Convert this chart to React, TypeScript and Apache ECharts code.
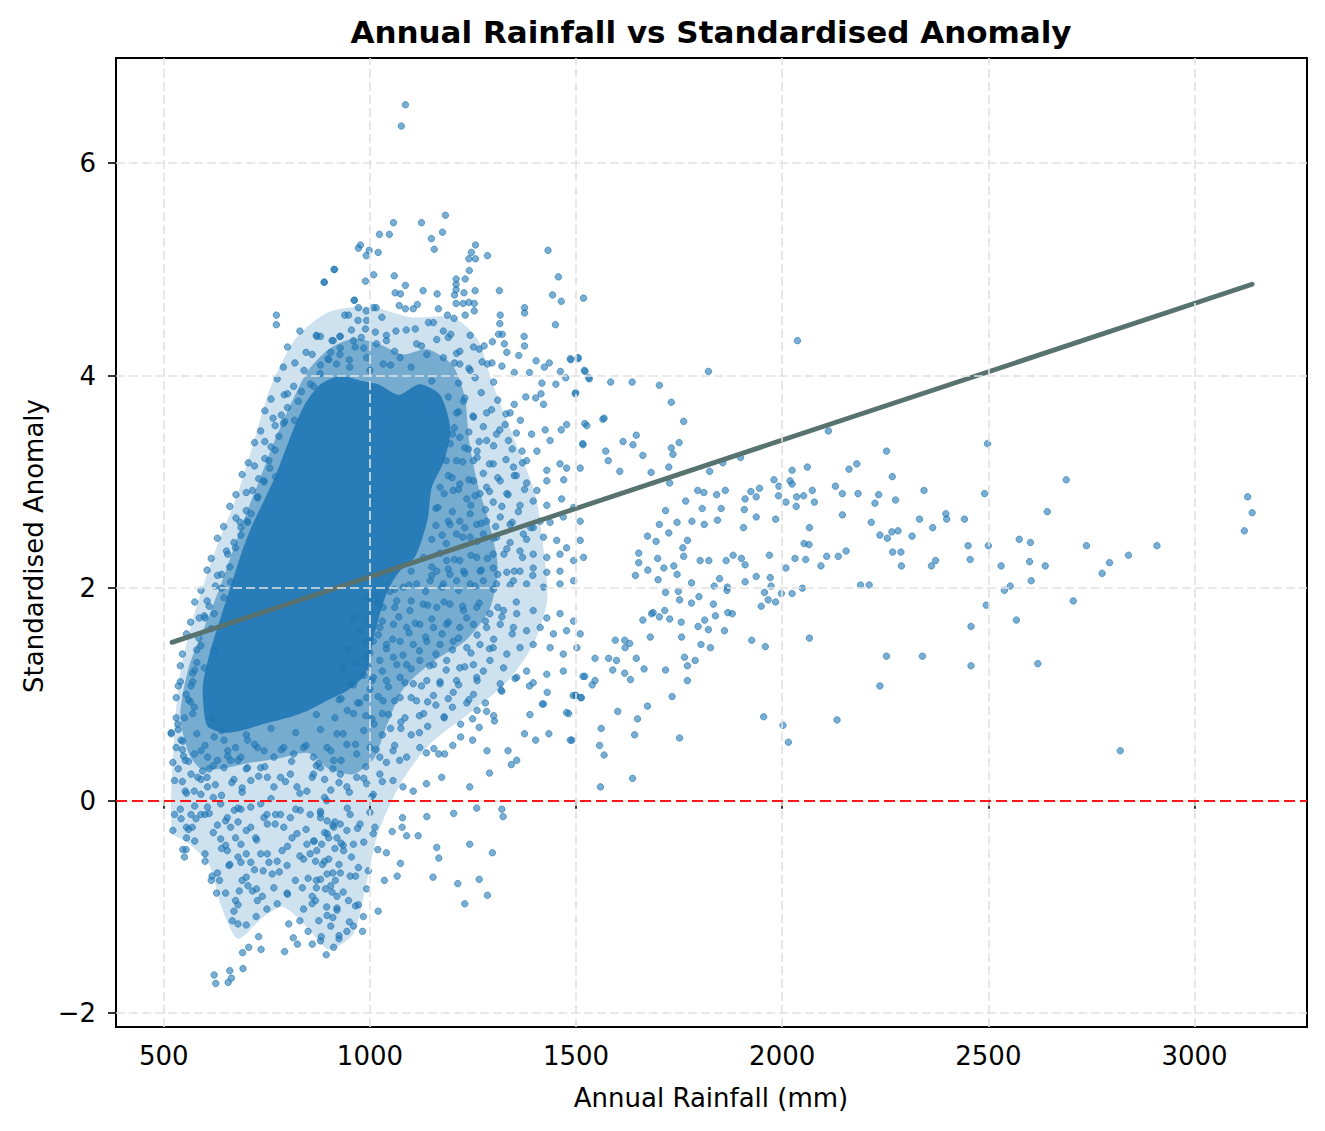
import { useEffect, useRef } from 'react'
import * as echarts from 'echarts'

// axis ticks
const xTicks = [500, 1000, 1500, 2000, 2500, 3000]
const yTicks = [-2, 0, 2, 4, 6]

const trendEnds = [
  [520, 1.49],
  [3140, 4.86],
]

// outlines of the overplotted part of the cloud, from loose to saturated
const looseOutline = [
  [520, -0.3], [525, 0.6], [540, 1.2], [570, 1.7], [620, 2.3], [680, 2.9],
  [720, 3.4], [760, 3.9], [820, 4.35], [900, 4.6], [1000, 4.65], [1100, 4.55],
  [1200, 4.55], [1260, 4.35], [1300, 3.9], [1350, 3.4], [1400, 2.9], [1420, 2.4],
  [1430, 1.9], [1400, 1.5], [1340, 1.15], [1250, 0.85], [1150, 0.55], [1080, 0.2],
  [1020, -0.3], [990, -0.8], [960, -1.25], [900, -1.4], [850, -1.2], [790, -1.0],
  [740, -1.1], [680, -1.3], [640, -1.0], [610, -0.6], [560, -0.4],
]

const denseOutline = [
  [560, 0.45], [540, 0.8], [560, 1.25], [600, 1.65], [640, 2.05], [690, 2.6],
  [730, 3.0], [770, 3.4], [810, 3.75], [850, 4.05], [900, 4.25], [960, 4.35],
  [1020, 4.3], [1080, 4.2], [1140, 4.25], [1200, 4.1], [1230, 3.8], [1240, 3.4],
  [1260, 3.0], [1290, 2.6], [1310, 2.2], [1290, 1.8], [1230, 1.5], [1150, 1.3],
  [1080, 1.05], [1040, 0.7], [1010, 0.4], [960, 0.25], [900, 0.3], [850, 0.45],
  [780, 0.4], [700, 0.35], [640, 0.3], [590, 0.3],
]

const coreOutline = [
  [606, 0.7], [596, 0.9], [595, 1.1], [612, 1.4], [640, 1.75], [665, 2.05],
  [690, 2.35], [715, 2.6], [740, 2.8], [770, 3.05], [795, 3.3], [820, 3.55],
  [845, 3.75], [880, 3.92], [930, 4.0], [980, 3.95], [1020, 3.92], [1070, 3.82],
  [1120, 3.92], [1170, 3.82], [1195, 3.5], [1180, 3.2], [1150, 2.95], [1140, 2.65],
  [1110, 2.3], [1070, 2.15], [1040, 1.95], [1010, 1.55], [990, 1.2], [950, 1.05],
  [900, 0.95], [850, 0.85], [800, 0.78], [740, 0.72], [690, 0.66], [645, 0.64],
]

// sparse points above the core
const upperCloud = [
  [1086, 6.55], [1076, 6.35], [1183, 5.51], [1125, 5.44], [1057, 5.44], [1176, 5.35],
  [1149, 5.29], [1023, 5.33], [1047, 5.33], [1156, 5.19], [977, 5.23], [972, 5.2],
  [998, 5.18], [1020, 5.16], [991, 5.13], [1256, 5.23], [1246, 5.16], [1240, 5.1],
  [1256, 5.1], [1285, 5.13], [1432, 5.18], [913, 5.0], [889, 4.88], [1009, 4.95],
  [989, 4.89], [1059, 4.94], [1086, 4.85], [1241, 4.99], [1231, 4.91], [1209, 4.91],
  [1209, 4.86], [1209, 4.81], [1255, 4.8], [1314, 4.8], [1457, 4.93], [1443, 4.76],
  [1464, 4.7], [1518, 4.73], [1450, 4.48], [1061, 4.78], [1074, 4.77], [1129, 4.8],
  [1163, 4.77], [1205, 4.76], [1228, 4.78], [962, 4.71], [1071, 4.66], [1086, 4.63],
  [1115, 4.67], [1105, 4.63], [972, 4.64], [991, 4.61], [1015, 4.64], [1209, 4.68],
  [1226, 4.68], [1240, 4.69], [1253, 4.68], [1166, 4.63], [1188, 4.57], [1204, 4.54],
  [1231, 4.57], [1253, 4.61], [948, 4.57], [971, 4.52], [1029, 4.55], [1316, 4.57],
  [1315, 4.49], [1375, 4.64], [1375, 4.59], [870, 4.38], [911, 4.33], [927, 4.37],
  [989, 4.44], [1013, 4.41], [979, 4.36], [1063, 4.42], [1088, 4.43], [1142, 4.5],
  [1154, 4.5], [1178, 4.42], [1196, 4.39], [1243, 4.38], [1297, 4.32], [1312, 4.39],
  [1321, 4.39], [1374, 4.37], [1375, 4.28], [1326, 4.3], [1332, 4.22], [1361, 4.19],
  [1403, 4.14], [1435, 4.12], [1423, 4.08], [1486, 4.16], [1505, 4.17], [1520, 4.05],
  [1272, 4.13], [1296, 4.12], [1320, 4.09], [1350, 4.03], [1387, 4.03], [1462, 4.04],
  [1475, 3.98], [1531, 3.98], [1451, 3.92], [1417, 3.93], [898, 4.16], [927, 4.2],
  [964, 4.27], [1016, 4.3], [1040, 4.33], [1113, 4.3], [1162, 4.34], [1218, 4.23],
  [1251, 4.27], [1277, 4.28], [1073, 4.17], [1138, 4.2], [1178, 4.17], [1218, 4.11],
  [1243, 4.05], [1032, 4.11], [992, 4.17], [951, 4.08], [919, 4.11], [879, 4.02],
  [856, 3.92], [773, 4.57], [773, 4.48], [871, 4.37], [914, 5.0], [889, 4.88],
  [939, 4.57], [908, 4.33], [928, 4.37], [962, 4.71], [834, 3.85], [826, 3.76],
  [793, 3.57], [817, 3.58], [779, 3.43], [863, 3.9], [900, 4.15], [928, 4.26],
  [960, 4.33], [992, 4.52], [1008, 4.64], [800, 3.7], [815, 3.9], [840, 4.05],
  [860, 4.2], [790, 3.55], [880, 4.1], [905, 4.22], [950, 4.15], [1000, 4.05],
  [1050, 4.1], [1100, 4.08], [1150, 3.95], [1190, 3.8], [1210, 3.65], [1200, 3.45],
  [1185, 3.2], [1170, 2.95], [1160, 2.75], [1175, 2.5], [1150, 2.2],
]

// left flank of the core
const coreEdge = [
  [757, 3.13], [771, 3.05], [743, 3.01], [728, 2.86], [703, 2.63], [687, 2.5],
  [674, 2.38], [662, 2.06], [743, 3.0], [727, 2.85], [703, 2.62], [687, 2.57],
  [646, 1.91], [622, 1.76], [586, 1.72], [598, 1.74], [590, 1.46], [566, 1.08],
  [554, 1.0], [534, 0.72], [518, 0.64], [622, 1.41], [598, 1.25], [574, 0.88],
  [550, 0.78], [546, 0.56], [770, 3.3], [755, 3.2], [712, 2.7], [660, 2.2],
  [640, 2.0], [615, 1.62], [580, 1.3], [570, 1.2], [560, 0.95], [540, 1.12],
  [605, 1.88], [630, 2.12], [652, 2.35], [675, 2.66], [700, 2.9], [720, 3.15],
  [745, 3.38], [765, 3.6], [792, 3.82], [818, 4.12], [548, 0.42], [535, 0.3],
]

// points packed round the core, read row by row
const coreHalo = [
  [830, 4.42], [880, 4.37], [955, 4.43], [1040, 4.38], [1110, 4.44], [1190, 4.36],
  [800, 4.27], [845, 4.22], [985, 4.26], [1060, 4.23], [1125, 4.28], [1210, 4.21], [1265, 4.25],
  [790, 4.08], [1205, 4.12], [1240, 4.07], [1285, 4.11],
  [775, 3.97], [1215, 3.93], [1255, 3.98], [1300, 3.94],
  [760, 3.78], [800, 3.83], [1230, 3.79], [1270, 3.84], [1310, 3.77],
  [745, 3.67], [785, 3.63], [1215, 3.66], [1250, 3.62], [1295, 3.68], [1330, 3.64],
  [735, 3.48], [770, 3.53], [1205, 3.51], [1240, 3.47], [1275, 3.52], [1315, 3.49], [1355, 3.46],
  [720, 3.37], [760, 3.33], [1195, 3.36], [1230, 3.32], [1265, 3.38], [1300, 3.34], [1345, 3.31],
  [705, 3.18], [745, 3.22], [1225, 3.19], [1260, 3.23], [1290, 3.17], [1330, 3.21], [1370, 3.18],
  [690, 3.07], [730, 3.03], [1190, 3.06], [1240, 3.02], [1275, 3.08], [1310, 3.04], [1355, 3.06],
  [675, 2.88], [715, 2.92], [1180, 2.89], [1215, 2.93], [1255, 2.87], [1290, 2.91], [1335, 2.88], [1375, 2.93],
  [660, 2.77], [700, 2.73], [1165, 2.76], [1200, 2.72], [1245, 2.78], [1280, 2.74], [1320, 2.77], [1360, 2.72],
  [645, 2.58], [685, 2.62], [1160, 2.59], [1190, 2.63], [1230, 2.57], [1270, 2.61], [1305, 2.58], [1345, 2.62], [1390, 2.57],
  [630, 2.47], [670, 2.43], [1150, 2.46], [1185, 2.42], [1225, 2.48], [1260, 2.44], [1300, 2.47], [1340, 2.43], [1380, 2.46],
  [615, 2.28], [655, 2.32], [1130, 2.29], [1170, 2.33], [1205, 2.27], [1245, 2.31], [1285, 2.28], [1325, 2.32], [1370, 2.29],
  [605, 2.17], [640, 2.13], [1100, 2.16], [1150, 2.12], [1190, 2.18], [1230, 2.14], [1270, 2.17], [1310, 2.13], [1350, 2.16], [1395, 2.12],
  [590, 1.98], [625, 2.02], [1060, 1.99], [1095, 2.03], [1135, 1.97], [1175, 2.01], [1215, 1.98], [1255, 2.02], [1300, 1.99], [1340, 2.03],
  [575, 1.87], [610, 1.83], [1020, 1.86], [1060, 1.82], [1100, 1.88], [1140, 1.84], [1180, 1.87], [1225, 1.83], [1265, 1.86], [1310, 1.82], [1355, 1.87],
  [565, 1.68], [600, 1.72], [1030, 1.69], [1070, 1.73], [1110, 1.67], [1150, 1.71], [1190, 1.68], [1235, 1.72], [1280, 1.69], [1320, 1.73],
  [555, 1.57], [585, 1.53], [1020, 1.56], [1055, 1.52], [1095, 1.58], [1135, 1.54], [1175, 1.57], [1215, 1.53], [1260, 1.56], [1300, 1.52], [1345, 1.57],
  [545, 1.38], [580, 1.42], [1000, 1.39], [1040, 1.43], [1080, 1.37], [1120, 1.41], [1160, 1.38], [1200, 1.42], [1245, 1.39], [1290, 1.43],
  [540, 1.27], [575, 1.23], [995, 1.26], [1030, 1.22], [1065, 1.28], [1100, 1.24], [1145, 1.27], [1185, 1.23], [1230, 1.26], [1275, 1.22],
  [535, 1.08], [570, 1.12], [960, 1.09], [1005, 1.13], [1045, 1.07], [1085, 1.11], [1125, 1.08], [1170, 1.12], [1215, 1.09], [1260, 1.13],
  [530, 0.97], [565, 0.93], [930, 0.96], [975, 0.92], [1020, 0.98], [1060, 0.94], [1100, 0.97], [1140, 0.93], [1190, 0.96], [1235, 0.92],
  [530, 0.78], [570, 0.82], [620, 0.77], [870, 0.81], [915, 0.78], [960, 0.82], [1005, 0.77], [1045, 0.81], [1085, 0.78], [1130, 0.82], [1180, 0.79],
  [535, 0.67], [580, 0.63], [640, 0.66], [700, 0.62], [760, 0.68], [820, 0.64], [880, 0.67], [935, 0.63], [985, 0.66], [1030, 0.62], [1075, 0.68], [1120, 0.64],
  [545, 0.48], [600, 0.52], [655, 0.47], [720, 0.53], [785, 0.48], [845, 0.52], [905, 0.47], [965, 0.53], [1015, 0.48], [1060, 0.52],
  [560, 0.37], [620, 0.33], [680, 0.38], [745, 0.32], [810, 0.37], [870, 0.33], [930, 0.38], [990, 0.32], [1040, 0.36],
  [545, 0.18], [605, 0.22], [665, 0.17], [730, 0.23], [795, 0.18], [860, 0.22], [925, 0.17], [985, 0.21], [1030, 0.18],
  [555, 0.07], [620, 0.03], [690, 0.08], [760, 0.02], [830, 0.07], [890, 0.03], [950, 0.08], [1005, 0.04],
  [540, -0.08], [610, -0.12], [680, -0.07], [750, -0.13], [820, -0.08], [880, -0.12], [945, -0.07], [1000, -0.11],
  [560, -0.27], [630, -0.23], [700, -0.28], [770, -0.22], [845, -0.27], [910, -0.23], [970, -0.26],
  [575, -0.38], [650, -0.42], [725, -0.37], [800, -0.43], [865, -0.38], [935, -0.42], [985, -0.39],
  [600, -0.57], [680, -0.53], [755, -0.58], [830, -0.52], [890, -0.57], [955, -0.53],
  [630, -0.68], [700, -0.72], [780, -0.67], [850, -0.73], [910, -0.68], [965, -0.71],
  [650, -0.87], [725, -0.83], [800, -0.88], [870, -0.82], [935, -0.86],
  [680, -0.98], [750, -1.02], [860, -0.97], [920, -1.03], [965, -0.99],
  [700, -1.17], [830, -1.13], [905, -1.18], [950, -1.14],
  [730, -1.28], [880, -1.32], [925, -1.27],
]

// moderately dense band right of the core
const midBand = [
  [1378, 3.8], [1402, 3.79], [1415, 3.83], [1421, 3.73], [1350, 3.73], [1340, 3.65],
  [1283, 3.65], [1251, 3.61], [1227, 3.76], [1328, 3.54], [1365, 3.58], [1392, 3.45],
  [1425, 3.49], [1464, 3.49], [1477, 3.54], [1498, 3.83], [1521, 3.55], [1516, 3.36],
  [1437, 3.39], [1405, 3.29], [1369, 3.29], [1336, 3.39], [1307, 3.45], [1283, 3.39],
  [1260, 3.29], [1239, 3.31], [1218, 3.42], [1210, 3.2], [1251, 3.2], [1299, 3.17],
  [1348, 3.14], [1380, 3.2], [1429, 3.11], [1461, 3.17], [1477, 3.13], [1510, 3.13],
  [1470, 3.02], [1429, 3.01], [1405, 2.92], [1380, 2.99], [1350, 3.06], [1316, 3.01],
  [1283, 2.95], [1251, 3.01], [1218, 2.98], [1199, 3.04], [1202, 2.92], [1235, 2.84],
  [1267, 2.89], [1299, 2.81], [1332, 2.89], [1364, 2.78], [1396, 2.82], [1429, 2.78],
  [1465, 2.84], [1494, 2.76], [1510, 2.63], [1469, 2.67], [1437, 2.62], [1413, 2.63],
  [1396, 2.57], [1372, 2.51], [1340, 2.6], [1316, 2.67], [1283, 2.63], [1259, 2.6],
  [1243, 2.7], [1218, 2.63], [1194, 2.6], [1210, 2.51], [1243, 2.48], [1275, 2.51],
  [1307, 2.48], [1421, 2.48], [1453, 2.45], [1477, 2.38], [1510, 2.45], [1518, 2.29],
  [1494, 2.26], [1461, 2.32], [1429, 2.29], [1396, 2.32], [1364, 2.35], [1332, 2.37],
  [1299, 2.32], [1259, 2.29], [1218, 2.26], [1186, 2.26], [1162, 2.16], [1194, 2.13],
  [1227, 2.16], [1267, 2.16], [1299, 2.19], [1332, 2.15], [1364, 2.16], [1396, 2.19],
  [1429, 2.15], [1461, 2.16], [1494, 2.07], [1461, 2.04], [1421, 2.01], [1380, 2.04],
  [1348, 2.07], [1307, 2.04], [1275, 2.07], [1243, 2.04], [1210, 2.07], [1178, 2.04],
  [1146, 2.07], [1113, 2.04], [1081, 2.01], [1049, 1.97], [1016, 1.94], [992, 1.91],
  [1032, 1.82], [1065, 1.88], [1097, 1.79], [1129, 1.85], [1162, 1.82], [1194, 1.85],
  [1227, 1.79], [1259, 1.82], [1291, 1.76], [1324, 1.79], [1356, 1.76], [1396, 1.79],
  [1429, 1.72], [1461, 1.76], [1494, 1.69], [1510, 1.57], [1477, 1.6], [1445, 1.57],
  [1413, 1.63], [1380, 1.6], [1348, 1.63], [1316, 1.66], [1283, 1.63], [1251, 1.66],
  [1218, 1.63], [1186, 1.66], [1154, 1.63], [1121, 1.66], [1089, 1.63], [1057, 1.66],
  [1024, 1.63], [992, 1.69], [1008, 1.5], [1040, 1.47], [1073, 1.5], [1105, 1.47],
  [1138, 1.5], [1170, 1.47], [1202, 1.5], [1235, 1.44], [1267, 1.47], [1299, 1.44],
  [1332, 1.38], [1364, 1.44], [1396, 1.47], [1437, 1.44], [1469, 1.38], [1502, 1.44],
  [992, 1.35], [1024, 1.32], [1057, 1.35], [1089, 1.28], [1121, 1.32], [1154, 1.28],
  [1186, 1.32], [1218, 1.25], [1251, 1.28], [1291, 1.32], [1324, 1.25], [1380, 1.22],
  [1429, 1.19], [1469, 1.22], [1008, 1.16], [1040, 1.13], [1073, 1.16], [1105, 1.1],
  [1138, 1.13], [1170, 1.1], [1210, 1.13], [1259, 1.16], [1316, 1.1], [1356, 1.16],
  [1396, 1.11], [992, 0.97], [1032, 0.94], [1073, 0.97], [1113, 0.94], [1154, 0.99],
  [1202, 1.02], [1251, 1.0], [1320, 1.03], [1421, 0.91], [1499, 0.99],
  [960, 1.72], [975, 1.6], [990, 1.5], [945, 1.42], [965, 1.3], [985, 1.18],
  [1000, 1.05], [955, 1.1], [935, 1.25], [925, 0.95], [945, 0.85], [970, 0.92],
  [990, 0.8], [1010, 0.72], [1030, 0.82], [1050, 0.68], [1075, 0.74], [1100, 0.62],
  [1120, 0.8], [1140, 0.7], [1160, 0.9], [1180, 0.78], [1200, 0.88], [1220, 0.72],
  [1240, 0.95], [1260, 0.85], [1280, 0.92], [1300, 0.8],
]

// long right tail, wetter stations
const rightSpread = [
  [2037, 4.33], [2112, 3.48], [2253, 3.29], [2267, 3.05], [2498, 3.36], [2162, 3.12],
  [2181, 3.17], [2129, 2.96], [2146, 2.89], [2184, 2.89], [2234, 2.88], [2225, 2.8],
  [2275, 2.83], [2344, 2.92], [2491, 2.89], [2689, 3.02], [2643, 2.72], [2146, 2.69],
  [2216, 2.62], [2333, 2.65], [2365, 2.57], [2397, 2.7], [2399, 2.65], [2442, 2.65],
  [2237, 2.5], [2255, 2.47], [2266, 2.53], [2281, 2.54], [2315, 2.49], [2268, 2.34],
  [2288, 2.34], [2289, 2.21], [2362, 2.21], [2372, 2.26], [2451, 2.4], [2456, 2.27],
  [2500, 2.4], [2531, 2.21], [2575, 2.46], [2602, 2.43], [2600, 2.25], [2638, 2.21],
  [2604, 2.07], [2553, 2.02], [2539, 1.98], [2495, 1.84], [2706, 1.88], [2738, 2.4],
  [2794, 2.24], [2776, 2.14], [2840, 2.31], [2909, 2.4], [3129, 2.86], [3140, 2.71],
  [3121, 2.54], [2458, 1.64], [2568, 1.7], [2620, 1.29], [2458, 1.27], [2253, 1.36],
  [2340, 1.36], [2237, 1.08], [2820, 0.47], [2133, 0.76], [2002, 0.71], [2015, 0.55],
  [1955, 0.79], [2190, 2.03], [2211, 2.03], [2094, 2.21], [2108, 2.3], [2136, 2.3],
  [2155, 2.35], [2031, 2.28], [2057, 2.27], [2009, 2.19], [2049, 2.0], [2024, 1.95],
  [1998, 1.95], [1984, 1.87], [1966, 1.89], [1949, 1.83], [1957, 1.96], [1973, 2.02],
  [1971, 2.1], [1937, 2.11], [1910, 2.06], [1910, 2.22], [1969, 2.31], [2066, 1.53],
  [1959, 1.45], [1926, 1.51], [2066, 2.57], [2065, 2.41], [2053, 2.42], [2034, 2.77],
  [2035, 2.86], [2052, 2.87], [2009, 2.81], [2078, 2.81], [2073, 2.92], [1991, 2.87],
  [1992, 2.96], [1980, 3.02], [2019, 3.01], [2024, 2.98], [2024, 3.11], [2061, 3.14],
  [1984, 2.65], [1937, 2.67], [1906, 2.57], [1908, 2.74], [1910, 2.84], [1937, 2.86],
  [1924, 2.91], [1945, 2.94], [1899, 3.23], [1856, 3.18], [1824, 3.1], [1821, 4.04],
  [1702, 3.91], [1731, 3.75], [1761, 3.57], [1750, 3.37], [1731, 3.32], [1735, 3.26],
  [1725, 3.14], [1636, 3.94], [1584, 3.94], [1505, 4.16], [1487, 4.15], [1522, 4.04],
  [1532, 3.97], [1499, 3.84], [1646, 3.44], [1638, 3.35], [1662, 3.25], [1614, 3.38],
  [1568, 3.6], [1565, 3.59], [1526, 3.53], [1517, 3.35], [1572, 3.29], [1578, 3.2],
  [1606, 3.1], [1682, 3.09], [1727, 2.99], [1766, 2.82], [1795, 2.92], [1810, 2.9],
  [1841, 2.88], [1862, 2.92], [1852, 2.75], [1806, 2.75], [1717, 2.73], [1702, 2.6],
  [1745, 2.62], [1781, 2.63], [1811, 2.6], [1843, 2.64], [1770, 2.45], [1759, 2.38],
  [1694, 2.44], [1673, 2.49], [1725, 2.52], [1801, 2.26], [1822, 2.26], [1864, 2.26],
  [1881, 2.31], [1901, 2.28], [1761, 2.3], [1737, 2.21], [1745, 2.13], [1713, 2.19],
  [1698, 2.28], [1674, 2.17], [1652, 2.33], [1652, 2.24], [1644, 2.12], [1699, 2.08],
  [1780, 2.05], [1848, 2.09], [1835, 2.02], [1867, 2.01], [1866, 1.98], [1798, 1.92],
  [1780, 1.86], [1751, 1.89], [1717, 1.96], [1748, 1.97], [1715, 1.79], [1687, 1.77],
  [1683, 1.76], [1702, 1.73], [1727, 1.71], [1755, 1.68], [1796, 1.64], [1812, 1.7],
  [1838, 1.74], [1833, 1.85], [1868, 1.77], [1879, 1.76], [1821, 1.61], [1756, 1.54],
  [1803, 1.47], [1826, 1.44], [1860, 1.6], [1680, 1.54], [1662, 1.7], [1618, 1.51],
  [1630, 1.48], [1595, 1.51], [1619, 1.44], [1763, 1.35], [1789, 1.32], [1770, 1.27],
  [1770, 1.13], [1717, 1.23], [1665, 1.24], [1632, 1.14], [1618, 1.2], [1589, 1.23],
  [1598, 1.32], [1579, 1.34], [1546, 1.34], [1646, 1.34], [1733, 0.98], [1673, 0.89],
  [1601, 0.84], [1649, 0.77], [1642, 0.62], [1751, 0.59], [1561, 0.68], [1557, 0.52],
  [1568, 0.43], [1637, 0.21], [1559, 0.13], [1490, 0.57], [1482, 0.82], [1513, 0.97],
  [1499, 0.99], [1539, 1.09], [1546, 1.13], [1521, 1.17],
]

// lower tail, including the negative anomalies
const lowerTail = [
  [626, -1.72], [622, -1.64], [660, -1.6], [664, -1.67], [656, -1.71], [692, -1.58],
  [691, -1.43], [706, -1.38], [736, -1.4], [793, -1.42], [666, -1.13], [680, -1.16],
  [628, -0.87], [617, -0.71], [635, -0.75], [670, -1.04], [674, -0.94], [683, -0.85],
  [690, -0.75], [704, -0.8], [715, -0.85], [727, -0.94], [724, -1.09], [739, -0.9],
  [767, -0.82], [775, -0.97], [803, -1.16], [814, -1.29], [824, -1.35], [799, -0.87],
  [819, -0.75], [836, -0.82], [839, -1.02], [850, -1.23], [860, -1.35], [882, -1.28],
  [894, -1.45], [912, -1.38], [925, -1.3], [944, -1.23], [960, -1.18], [982, -1.23],
  [984, -1.09], [972, -0.98], [948, -0.94], [920, -1.01], [896, -1.08], [876, -1.13],
  [868, -0.94], [892, -0.83], [908, -0.86], [916, -0.75], [896, -0.69], [880, -0.74],
  [928, -0.68], [952, -0.71], [972, -0.63], [996, -0.66], [992, -0.83], [1020, -1.04],
  [1035, -0.75], [1066, -0.71], [1074, -0.59], [1040, -0.49], [1019, -0.46], [1008, -0.31],
  [1012, -0.25], [1054, -0.29], [1078, -0.25], [1079, -0.16], [1089, -0.33], [1117, -0.33],
  [1138, -0.15], [1153, -0.72], [1162, -0.44], [1167, -0.54], [1203, -0.12], [1213, -0.78],
  [1230, -0.97], [1242, -0.41], [1259, -0.07], [1265, -0.74], [1285, -0.89], [1297, -0.49],
  [1320, -0.08], [1323, -0.15], [847, -0.41], [863, -0.38], [871, -0.47], [883, -0.41],
  [855, -0.5], [868, -0.57], [839, -0.55], [823, -0.31], [811, -0.35], [791, -0.25],
  [771, -0.13], [751, -0.22], [743, -0.16], [723, -0.35], [711, -0.25], [687, -0.41],
  [674, -0.35], [662, -0.25], [650, -0.19], [638, -0.36], [654, -0.47], [658, -0.61],
  [687, -0.58], [711, -0.58], [735, -0.5], [751, -0.5], [775, -0.57], [787, -0.47],
  [799, -0.61], [763, -0.69], [741, -0.66], [912, -0.25], [896, -0.19], [928, -0.22],
  [944, -0.28], [896, -0.31], [920, -0.35], [936, -0.47], [960, -0.41], [976, -0.22],
  [952, -0.13], [880, -0.16], [855, -0.13], [831, -0.09], [807, -0.16], [783, -0.13],
  [566, -0.13], [542, -0.17], [526, -0.13], [522, -0.28], [555, -0.25], [569, -0.25],
  [555, -0.35], [546, -0.46], [554, -0.46], [550, -0.53], [578, -0.17], [590, -0.13],
  [600, -0.13], [606, -0.06], [638, -0.03], [654, -0.16], [671, -0.09], [687, -0.08],
  [711, -0.06], [735, -0.03], [518, 0.63], [522, 0.36], [530, 0.5], [542, 0.57],
  [552, 0.38], [526, 0.19], [552, 0.09], [574, 0.09], [590, 0.06], [606, 0.13],
  [582, 0.22], [594, 0.28], [566, 0.25], [574, 0.44], [590, 0.47], [606, 0.41],
  [630, 0.38], [646, 0.31], [662, 0.38], [687, 0.41], [703, 0.31], [711, 0.19],
  [735, 0.31], [751, 0.22], [767, 0.13], [783, 0.22], [807, 0.25], [823, 0.13],
  [847, 0.09], [863, 0.25], [880, 0.31], [912, 0.38], [928, 0.25], [944, 0.13],
  [968, 0.22], [992, 0.16], [1008, 0.06], [1024, 0.25], [1056, 0.19], [1080, 0.13],
  [1105, 0.09], [1137, 0.16], [1174, 0.22], [1242, 0.13], [1290, 0.26], [1335, 0.47],
  [1343, 0.34], [1356, 0.38], [1284, 0.47], [1249, 0.57], [1220, 0.6], [1201, 0.52],
  [1181, 0.44], [1167, 0.44], [1155, 0.49], [1137, 0.45], [1121, 0.5], [1089, 0.41],
  [1072, 0.38], [1056, 0.47], [1024, 0.41], [1000, 0.5], [968, 0.44], [944, 0.53],
  [920, 0.63], [896, 0.5], [863, 0.41], [839, 0.5], [815, 0.44], [791, 0.5],
  [767, 0.41], [743, 0.47], [727, 0.5], [703, 0.57], [674, 0.5], [646, 0.57],
  [622, 0.6], [1375, 0.63], [1402, 0.57], [1434, 0.63], [1486, 0.57], [1388, 0.81],
  [1418, 0.91], [1477, 0.83], [1430, 1.02], [1387, 1.08], [1352, 1.15], [1318, 1.04],
  [1302, 0.75], [1283, 0.84], [1265, 0.69], [1249, 0.77], [1493, 0.99], [1511, 0.97],
  [1517, 1.17], [880, -0.1], [895, 0.0], [905, 0.1], [890, 0.2], [910, 0.3],
  [900, -0.35], [915, -0.45], [885, -0.6], [905, -0.8], [920, -0.9], [895, -1.0],
  [910, -1.1], [925, -0.6], [870, -0.75], [860, -0.9], [890, -0.3], [875, 0.35],
  [915, -0.2], [900, -0.55], [930, -0.4], [610, 0.3], [625, 0.15], [640, 0.05],
  [655, 0.42], [670, 0.2], [690, 0.12], [700, 0.3], [620, -0.3], [640, -0.45],
  [660, -0.6], [680, -0.2], [700, -0.5], [720, -0.65], [600, -0.5], [615, -0.75],
  [590, 0.2], [575, -0.05],
]

const font = 'DejaVu Sans, Verdana, sans-serif'
const tabBlue = '#1f77b4'

function outlineSeries(outline: number[][], opacity: number, z: number) {
  return {
    type: 'custom',
    z,
    silent: true,
    data: [outline[0]],
    encode: { x: 0, y: 1 },
    renderItem: (_params: unknown, api: any) => ({
      type: 'polygon',
      shape: { points: outline.map((p) => api.coord(p)), smooth: 0.25 },
      style: { fill: tabBlue, opacity },
    }),
  }
}

export default function App() {
  const chartRef = useRef<HTMLDivElement | null>(null)

  useEffect(() => {
    if (!chartRef.current) {
      return
    }

    const chart = echarts.init(chartRef.current, null, { renderer: 'svg' })
    const points = [
      ...lowerTail,
      ...coreEdge,
      ...coreHalo,
      ...midBand,
      ...upperCloud,
      ...rightSpread,
    ]

    chart.setOption({
      animation: false,
      textStyle: { fontFamily: font },
      grid: {
        left: 108,
        top: 50,
        right: 10,
        bottom: 96,
        show: true,
        borderColor: '#000',
        borderWidth: 2,
        outerBoundsMode: 'none',
      },
      graphic: [
        {
          type: 'text',
          x: 703,
          y: 24,
          style: {
            text: 'Annual Rainfall vs Standardised Anomaly',
            font: `bold 31px ${font}`,
            fill: '#000',
            textAlign: 'center',
            textVerticalAlign: 'middle',
          },
        },
        {
          type: 'text',
          x: 703,
          y: 1090,
          style: {
            text: 'Annual Rainfall (mm)',
            font: `26px ${font}`,
            fill: '#000',
            textAlign: 'center',
            textVerticalAlign: 'middle',
          },
        },
        {
          type: 'text',
          x: 26,
          y: 538,
          rotation: Math.PI / 2,
          style: {
            text: 'Standardised Anomaly',
            font: `26px ${font}`,
            fill: '#000',
            textAlign: 'center',
            textVerticalAlign: 'middle',
          },
        },
      ],
      xAxis: {
        type: 'value',
        min: 384,
        max: 3273,
        axisLine: { show: false },
        splitLine: { show: false },
        axisTick: {
          show: true,
          length: 8,
          lineStyle: { color: '#000', width: 1.6 },
          customValues: xTicks,
        },
        axisLabel: {
          color: '#000',
          fontSize: 26,
          fontFamily: font,
          margin: 16,
          customValues: xTicks,
          formatter: (v: number) => String(v),
        },
      },
      yAxis: {
        type: 'value',
        min: -2.13,
        max: 6.99,
        axisLine: { show: false },
        splitLine: { show: false },
        axisTick: {
          show: true,
          length: 8,
          lineStyle: { color: '#000', width: 1.6 },
          customValues: yTicks,
        },
        axisLabel: {
          color: '#000',
          fontSize: 26,
          fontFamily: font,
          margin: 20,
          customValues: yTicks,
          formatter: (v: number) => (v < 0 ? '\u2212' + Math.abs(v) : String(v)),
        },
      },
      series: [
        {
          // dashed grid
          type: 'scatter',
          data: [],
          z: 0,
          silent: true,
          markLine: {
            silent: true,
            symbol: ['none', 'none'],
            label: { show: false },
            lineStyle: { color: '#e2e2e2', width: 1.6, type: [9, 4] },
            data: [
              ...xTicks.map((v) => ({ xAxis: v })),
              ...yTicks.map((v) => ({ yAxis: v })),
            ],
          },
        },
        outlineSeries(looseOutline, 0.22, 1),
        outlineSeries(denseOutline, 0.5, 1),
        outlineSeries(coreOutline, 0.9, 1),
        {
          type: 'scatter',
          z: 2,
          data: points,
          symbolSize: 6.5,
          itemStyle: {
            color: tabBlue,
            opacity: 0.6,
            borderColor: tabBlue,
            borderWidth: 1,
          },
        },
        {
          type: 'line',
          z: 3,
          data: trendEnds,
          symbol: 'none',
          lineStyle: { color: '#57726f', width: 4.8, cap: 'round' },
        },
        {
          type: 'scatter',
          data: [],
          z: 4,
          markLine: {
            silent: true,
            symbol: ['none', 'none'],
            label: { show: false },
            lineStyle: { color: '#ff0000', width: 2.2, type: [11, 5], opacity: 0.9 },
            data: [{ yAxis: 0 }],
          },
        },
      ],
    })

    return () => {
      chart.dispose()
    }
  }, [])

  return <div ref={chartRef} style={{ width: 1309, height: 1115 }} />
}
